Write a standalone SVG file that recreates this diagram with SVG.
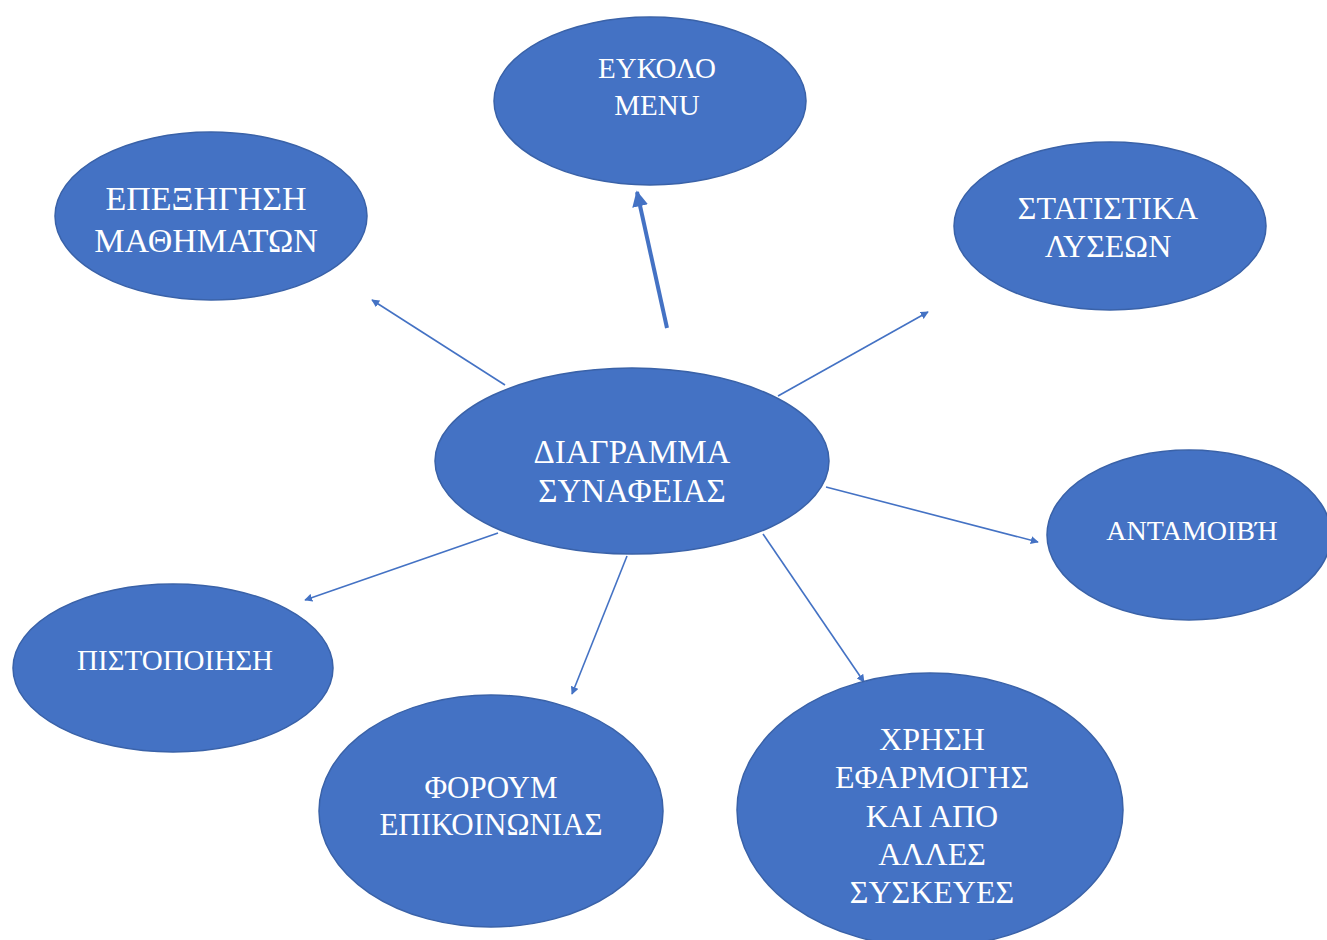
<svg xmlns="http://www.w3.org/2000/svg" width="1327" height="940" viewBox="0 0 1327 940">
  <style>
    .node ellipse { fill: #4472C4; stroke: #3A62A8; stroke-width: 1.5; }
    .node text { fill: #FFFFFF; font-family: "Liberation Serif", "Times New Roman", serif; text-anchor: middle; }
    .conn line { stroke: #4472C4; stroke-width: 1.6; fill: none; marker-end: url(#arrow); }
    .conn line.thick { stroke-width: 4; marker-end: url(#arrowBig); }
  </style>
  <defs>
    <marker id="arrow" viewBox="0 0 10 10" refX="9" refY="5" markerWidth="8" markerHeight="8" markerUnits="userSpaceOnUse" orient="auto">
      <path d="M0,0 L10,5 L0,10 z" fill="#4472C4"/>
    </marker>
    <marker id="arrowBig" viewBox="0 0 10 10" refX="9" refY="5" markerWidth="16" markerHeight="26" markerUnits="userSpaceOnUse" orient="auto">
      <path d="M0,0 L10,5 L0,10 z" fill="#4472C4"/>
    </marker>
  </defs>

  <rect width="1327" height="940" fill="#FFFFFF"/>

  <!-- connectors from the central node -->
  <g id="connectors" class="conn">
    <line class="thick" x1="667" y1="328" x2="637" y2="192"/>
    <line x1="505" y1="385" x2="372" y2="300"/>
    <line x1="778" y1="396" x2="928" y2="312"/>
    <line x1="826" y1="487" x2="1038" y2="542"/>
    <line x1="498" y1="533" x2="305" y2="600"/>
    <line x1="627" y1="556" x2="572" y2="694"/>
    <line x1="763" y1="534" x2="864" y2="682"/>
  </g>

  <g id="node-menu" class="node">
    <ellipse cx="650" cy="101" rx="156" ry="84"/>
    <text x="657" y="78" font-size="29">ΕΥΚΟΛΟ</text>
    <text x="657" y="115" font-size="29">MENU</text>
  </g>

  <g id="node-explain" class="node">
    <ellipse cx="211" cy="216" rx="156" ry="84"/>
    <text x="206" y="210" font-size="34">ΕΠΕΞΗΓΗΣΗ</text>
    <text x="206" y="252" font-size="34">ΜΑΘΗΜΑΤΩΝ</text>
  </g>

  <g id="node-stats" class="node">
    <ellipse cx="1110" cy="226" rx="156" ry="84"/>
    <text x="1108" y="219" font-size="32">ΣΤΑΤΙΣΤΙΚΑ</text>
    <text x="1108" y="257" font-size="32">ΛΥΣΕΩΝ</text>
  </g>

  <g id="node-center" class="node">
    <ellipse cx="632" cy="461" rx="197" ry="93"/>
    <text x="632" y="463" font-size="33">ΔΙΑΓΡΑΜΜΑ</text>
    <text x="632" y="502" font-size="33">ΣΥΝΑΦΕΙΑΣ</text>
  </g>

  <g id="node-reward" class="node">
    <ellipse cx="1189" cy="535" rx="142" ry="85"/>
    <text x="1192" y="540" font-size="28">ΑΝΤΑΜΟΙΒΉ</text>
  </g>

  <g id="node-cert" class="node">
    <ellipse cx="173" cy="668" rx="160" ry="84"/>
    <text x="175" y="670" font-size="29">ΠΙΣΤΟΠΟΙΗΣΗ</text>
  </g>

  <g id="node-forum" class="node">
    <ellipse cx="491" cy="811" rx="172" ry="116"/>
    <text x="491" y="798" font-size="31">ΦΟΡΟΥΜ</text>
    <text x="491" y="835" font-size="31">ΕΠΙΚΟΙΝΩΝΙΑΣ</text>
  </g>

  <g id="node-devices" class="node">
    <ellipse cx="930" cy="810" rx="193" ry="137"/>
    <text x="932" y="750" font-size="32">ΧΡΗΣΗ</text>
    <text x="932" y="788" font-size="32">ΕΦΑΡΜΟΓΗΣ</text>
    <text x="932" y="827" font-size="32">ΚΑΙ ΑΠΟ</text>
    <text x="932" y="865" font-size="32">ΑΛΛΕΣ</text>
    <text x="932" y="903" font-size="32">ΣΥΣΚΕΥΕΣ</text>
  </g>
</svg>
